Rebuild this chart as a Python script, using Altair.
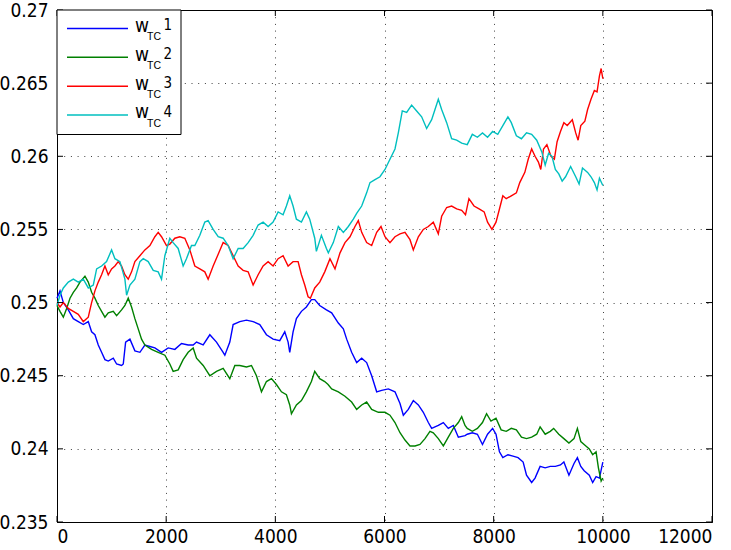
import altair as alt
import pandas as pd

# ---- series data: w_TC weights over iterations ----
x1 = [0, 55, 116, 207, 299, 390, 482, 573, 634, 695, 756, 817, 878, 939, 1031, 1092, 1183, 1214, 1257, 1336,
      1427, 1519, 1610, 1702, 1793, 1915, 2037, 2159, 2281, 2403, 2495, 2556, 2678, 2800, 2922, 3044, 3075, 3166,
      3227, 3349, 3471, 3593, 3715, 3837, 3959, 4081, 4173, 4234, 4264, 4325, 4386, 4478, 4569, 4661, 4722, 4813,
      4936, 5032, 5154, 5246, 5307, 5398, 5490, 5582, 5673, 5765, 5857, 5948, 6070, 6192, 6284, 6345, 6436, 6528,
      6620, 6711, 6803, 6864, 6986, 7078, 7169, 7261, 7353, 7475, 7516, 7609, 7702, 7795, 7888, 7981, 8043, 8106,
      8168, 8261, 8354, 8447, 8540, 8602, 8696, 8758, 8851, 8944, 9037, 9130, 9224, 9286, 9379, 9472, 9534, 9596,
      9658, 9752, 9814, 9876, 9938, 10000]
w1 = [0.2503, 0.2508, 0.2500, 0.2495, 0.2489, 0.2487, 0.2485, 0.2487, 0.2480, 0.2478, 0.2471, 0.2466, 0.2461,
      0.2460, 0.2462, 0.2458, 0.2457, 0.2458, 0.2473, 0.2475, 0.2467, 0.2466, 0.2471, 0.2470, 0.2469, 0.2466,
      0.2469, 0.2468, 0.2472, 0.2471, 0.2471, 0.2473, 0.2471, 0.2478, 0.2473, 0.2466, 0.2464, 0.2473, 0.2485,
      0.2487, 0.2488, 0.2487, 0.2485, 0.2478, 0.2475, 0.2474, 0.2480, 0.2473, 0.2466, 0.2480, 0.2489, 0.2494,
      0.2497, 0.2502, 0.2502, 0.2498, 0.2495, 0.2493, 0.2486, 0.2482, 0.2475, 0.2466, 0.2459, 0.2462, 0.2459,
      0.2450, 0.2439, 0.2440, 0.2441, 0.2439, 0.2431, 0.2423, 0.2427, 0.2433, 0.2430, 0.2425, 0.2418, 0.2414,
      0.2416, 0.2418, 0.2414, 0.2416, 0.2408, 0.2409, 0.2410, 0.2411, 0.2410, 0.2403, 0.2410, 0.2414, 0.2410,
      0.2398, 0.2394, 0.2396, 0.2395, 0.2394, 0.2391, 0.2382, 0.2377, 0.2380, 0.2388, 0.2387, 0.2388, 0.2388,
      0.2389, 0.2391, 0.2382, 0.2390, 0.2394, 0.2388, 0.2385, 0.2382, 0.2377, 0.2381, 0.2380, 0.2391]

x2 = [0, 55, 116, 177, 238, 299, 360, 421, 512, 573, 634, 695, 756, 817, 878, 939, 1031, 1092, 1183, 1244,
      1305, 1366, 1427, 1488, 1549, 1610, 1732, 1854, 1976, 2067, 2128, 2220, 2311, 2403, 2495, 2556, 2678, 2800,
      2922, 3044, 3166, 3258, 3349, 3471, 3563, 3654, 3746, 3837, 3929, 4020, 4112, 4203, 4264, 4295, 4386, 4478,
      4569, 4661, 4722, 4813, 4905, 4966, 5032, 5154, 5276, 5398, 5490, 5582, 5673, 5765, 5887, 6009, 6100, 6192,
      6284, 6375, 6467, 6559, 6650, 6742, 6833, 6894, 6986, 7078, 7169, 7261, 7353, 7414, 7475, 7516, 7609, 7702,
      7795, 7870, 7950, 8043, 8137, 8230, 8323, 8416, 8509, 8602, 8696, 8789, 8851, 8944, 9037, 9099, 9193, 9286,
      9379, 9472, 9534, 9596, 9689, 9752, 9814, 9876, 9919, 9969, 10000]
w2 = [0.2498, 0.2494, 0.2490, 0.2496, 0.2503, 0.2507, 0.2510, 0.2514, 0.2518, 0.2514, 0.2507, 0.2503, 0.2498,
      0.2494, 0.2490, 0.2493, 0.2494, 0.2491, 0.2495, 0.2498, 0.2503, 0.2497, 0.2489, 0.2482, 0.2475, 0.2471,
      0.2468, 0.2466, 0.2464, 0.2458, 0.2453, 0.2454, 0.2461, 0.2466, 0.2469, 0.2462, 0.2457, 0.2450, 0.2453,
      0.2455, 0.2448, 0.2457, 0.2457, 0.2456, 0.2457, 0.2450, 0.2439, 0.2446, 0.2448, 0.2444, 0.2439, 0.2437,
      0.2430, 0.2424, 0.2430, 0.2433, 0.2439, 0.2446, 0.2453, 0.2448, 0.2446, 0.2444, 0.2441, 0.2439, 0.2436,
      0.2432, 0.2427, 0.2430, 0.2432, 0.2427, 0.2425, 0.2425, 0.2423, 0.2418, 0.2411, 0.2406, 0.2402, 0.2402,
      0.2403, 0.2407, 0.2412, 0.2411, 0.2407, 0.2402, 0.2408, 0.2414, 0.2418, 0.2422, 0.2416, 0.2414, 0.2412,
      0.2414, 0.2418, 0.2424, 0.2419, 0.2421, 0.2413, 0.2412, 0.2414, 0.2413, 0.2408, 0.2407, 0.2408, 0.2410,
      0.2415, 0.2410, 0.2412, 0.2414, 0.2410, 0.2407, 0.2404, 0.2407, 0.2414, 0.2405, 0.2402, 0.2400, 0.2396,
      0.2398, 0.2387, 0.2378, 0.2380]

x3 = [0, 55, 116, 207, 299, 390, 482, 573, 634, 695, 756, 817, 878, 939, 1000, 1061, 1122, 1183, 1244, 1305,
      1366, 1427, 1519, 1610, 1702, 1793, 1854, 1915, 2006, 2067, 2159, 2250, 2342, 2434, 2525, 2617, 2708, 2769,
      2861, 2953, 3044, 3136, 3227, 3319, 3410, 3502, 3593, 3685, 3776, 3868, 3959, 4051, 4142, 4234, 4325, 4417,
      4478, 4539, 4600, 4642, 4722, 4813, 4905, 5001, 5093, 5185, 5276, 5368, 5459, 5520, 5582, 5673, 5765, 5857,
      5936, 6009, 6100, 6192, 6284, 6375, 6467, 6528, 6620, 6711, 6803, 6894, 6986, 7047, 7139, 7230, 7322, 7414,
      7484, 7547, 7640, 7733, 7826, 7888, 7969, 8043, 8106, 8168, 8230, 8323, 8416, 8478, 8571, 8633, 8696, 8758,
      8820, 8863, 8913, 8975, 9050, 9112, 9162, 9224, 9286, 9348, 9441, 9503, 9547, 9596, 9671, 9721, 9783, 9845,
      9894, 9938, 9969, 10000]
w3 = [0.2500, 0.2497, 0.2500, 0.2496, 0.2494, 0.2492, 0.2487, 0.2490, 0.2500, 0.2508, 0.2514, 0.2519, 0.2525,
      0.2519, 0.2523, 0.2525, 0.2528, 0.2525, 0.2519, 0.2516, 0.2521, 0.2528, 0.2532, 0.2536, 0.2539, 0.2545,
      0.2548, 0.2545, 0.2539, 0.2540, 0.2544, 0.2545, 0.2544, 0.2536, 0.2525, 0.2523, 0.2521, 0.2516, 0.2525,
      0.2533, 0.2541, 0.2539, 0.2532, 0.2525, 0.2522, 0.2521, 0.2512, 0.2519, 0.2525, 0.2528, 0.2525, 0.2530,
      0.2532, 0.2525, 0.2528, 0.2528, 0.2519, 0.2512, 0.2504, 0.2503, 0.2510, 0.2514, 0.2521, 0.2530, 0.2523,
      0.2534, 0.2541, 0.2545, 0.2552, 0.2556, 0.2548, 0.2541, 0.2539, 0.2548, 0.2552, 0.2545, 0.2541, 0.2545,
      0.2547, 0.2548, 0.2543, 0.2536, 0.2545, 0.2550, 0.2552, 0.2555, 0.2547, 0.2559, 0.2565, 0.2566, 0.2564,
      0.2563, 0.2560, 0.2571, 0.2566, 0.2564, 0.2562, 0.2555, 0.2550, 0.2555, 0.2564, 0.2573, 0.2571, 0.2573,
      0.2575, 0.2582, 0.2589, 0.2598, 0.2605, 0.2600, 0.2596, 0.2591, 0.2605, 0.2608, 0.2600, 0.2598, 0.2610,
      0.2617, 0.2623, 0.2621, 0.2625, 0.2616, 0.2611, 0.2621, 0.2624, 0.2632, 0.2639, 0.2645, 0.2644, 0.2655,
      0.2660, 0.2653]

x4 = [0, 55, 116, 207, 299, 390, 482, 573, 665, 726, 817, 908, 1000, 1061, 1153, 1244, 1275, 1336, 1427, 1519,
      1580, 1671, 1763, 1854, 1915, 1976, 2067, 2128, 2220, 2311, 2372, 2464, 2525, 2617, 2708, 2769, 2861, 2953,
      3044, 3136, 3227, 3319, 3410, 3502, 3593, 3685, 3776, 3868, 3959, 4051, 4142, 4203, 4264, 4325, 4386, 4478,
      4569, 4630, 4722, 4752, 4844, 4936, 4971, 5062, 5154, 5246, 5337, 5429, 5490, 5582, 5673, 5734, 5826, 5917,
      6009, 6100, 6192, 6253, 6326, 6406, 6497, 6589, 6681, 6772, 6864, 6925, 6986, 7047, 7139, 7230, 7322, 7414,
      7516, 7609, 7702, 7795, 7888, 7981, 8075, 8168, 8261, 8323, 8416, 8509, 8602, 8696, 8789, 8882, 8944, 9006,
      9068, 9130, 9193, 9255, 9317, 9410, 9503, 9565, 9627, 9721, 9783, 9845, 9894, 9938, 10000]
w4 = [0.2498, 0.2505, 0.2510, 0.2514, 0.2516, 0.2514, 0.2516, 0.2510, 0.2512, 0.2523, 0.2525, 0.2528, 0.2536,
      0.2530, 0.2528, 0.2516, 0.2505, 0.2512, 0.2516, 0.2528, 0.2530, 0.2528, 0.2522, 0.2521, 0.2516, 0.2532,
      0.2544, 0.2541, 0.2537, 0.2525, 0.2530, 0.2539, 0.2539, 0.2546, 0.2555, 0.2556, 0.2550, 0.2545, 0.2544,
      0.2539, 0.2530, 0.2537, 0.2537, 0.2541, 0.2546, 0.2553, 0.2555, 0.2552, 0.2555, 0.2562, 0.2560, 0.2566,
      0.2573, 0.2566, 0.2557, 0.2555, 0.2562, 0.2557, 0.2544, 0.2535, 0.2546, 0.2537, 0.2534, 0.2541, 0.2552,
      0.2548, 0.2552, 0.2557, 0.2561, 0.2566, 0.2575, 0.2582, 0.2584, 0.2586, 0.2591, 0.2598, 0.2605, 0.2616,
      0.2631, 0.2630, 0.2635, 0.2631, 0.2627, 0.2619, 0.2625, 0.2632, 0.2639, 0.2632, 0.2623, 0.2612, 0.2611,
      0.2609, 0.2608, 0.2615, 0.2613, 0.2616, 0.2613, 0.2617, 0.2615, 0.2621, 0.2627, 0.2623, 0.2614, 0.2612,
      0.2616, 0.2615, 0.2611, 0.2603, 0.2594, 0.2602, 0.2600, 0.2591, 0.2588, 0.2583, 0.2586, 0.2593, 0.2586,
      0.2581, 0.2592, 0.2589, 0.2586, 0.2582, 0.2577, 0.2585, 0.2580]

series_ids = ["1", "2", "3", "4"]
series_colors = ["#0000ff", "#008000", "#ff0000", "#00bfbf"]
x_ticks = [0, 2000, 4000, 6000, 8000, 10000, 12000]
y_ticks = [0.235, 0.24, 0.245, 0.25, 0.255, 0.26, 0.265, 0.27]

frames = []
for sid, xs_, ws_ in zip(series_ids, [x1, x2, x3, x4], [w1, w2, w3, w4]):
    frames.append(pd.DataFrame({"iter": xs_, "w": ws_, "series": sid}))
df = pd.concat(frames, ignore_index=True)

W, H = 655, 512
FONT = "Liberation Sans Narrow, DejaVu Sans Condensed, sans-serif"
SUBFONT = "Liberation Sans, Arial, sans-serif"
TICK = 6

xscale = alt.Scale(domain=[0, 12000], nice=False, zero=False)
yscale = alt.Scale(domain=[0.235, 0.27], nice=False, zero=False)
xaxis = alt.Axis(values=x_ticks, format="d", title=None, ticks=False, labelPadding=5,
                 grid=True, gridDash=[1, 5.7], gridColor="#000", gridOpacity=0.75)
yaxis = alt.Axis(values=y_ticks, format=".3~f", title=None, ticks=False, labelPadding=9,
                 grid=True, gridDash=[1, 5.7], gridColor="#000", gridOpacity=0.75)


def X(field):
    return alt.X(field, type="quantitative", scale=xscale, axis=xaxis)


def Y(field):
    return alt.Y(field, type="quantitative", scale=yscale, axis=yaxis)


lines = alt.Chart(df).mark_line(strokeWidth=1.4).encode(
    x=X("iter"),
    y=Y("w"),
    color=alt.Color("series:N", scale=alt.Scale(domain=series_ids, range=series_colors), legend=None),
    order=alt.Order("iter:Q"),
)

# inward tick marks on all four sides of the box
xt = pd.DataFrame({"t": x_ticks})
yt = pd.DataFrame({"t": y_ticks})
tick_bottom = alt.Chart(xt).mark_rule(color="black", strokeWidth=1).encode(
    x=X("t"), y=alt.value(H), y2=alt.value(H - TICK))
tick_top = alt.Chart(xt).mark_rule(color="black", strokeWidth=1).encode(
    x=X("t"), y=alt.value(0), y2=alt.value(TICK))
tick_left = alt.Chart(yt).mark_rule(color="black", strokeWidth=1).encode(
    y=Y("t"), x=alt.value(0), x2=alt.value(TICK))
tick_right = alt.Chart(yt).mark_rule(color="black", strokeWidth=1).encode(
    y=Y("t"), x=alt.value(W), x2=alt.value(W - TICK))

# legend box in the upper-left corner
one = pd.DataFrame({"k": [0]})
LEG_W, LEG_H = 124, 124.5
legend_layers = [
    alt.Chart(one).mark_rect(fill="white", stroke="black", strokeWidth=1).encode(
        x=alt.value(0), x2=alt.value(LEG_W), y=alt.value(0), y2=alt.value(LEG_H))
]
ROW0, ROW_STEP = 18.4, 28.9
for i, (sid, col) in enumerate(zip(series_ids, series_colors)):
    yl = ROW0 + i * ROW_STEP
    legend_layers.append(
        alt.Chart(one).mark_rule(color=col, strokeWidth=1.5).encode(
            x=alt.value(10), x2=alt.value(71), y=alt.value(yl)))
    legend_layers.append(
        alt.Chart(one).mark_text(text="w", font=FONT, fontSize=19, align="left",
                                 baseline="alphabetic", color="black").encode(
            x=alt.value(78), y=alt.value(yl + 3.3)))
    legend_layers.append(
        alt.Chart(one).mark_text(text="TC", font=SUBFONT, fontSize=10.5, align="left",
                                 baseline="alphabetic", color="black").encode(
            x=alt.value(90), y=alt.value(yl + 11.6)))
    legend_layers.append(
        alt.Chart(one).mark_text(text=sid, font=FONT, fontSize=15, align="left",
                                 baseline="alphabetic", color="black").encode(
            x=alt.value(106.5), y=alt.value(yl + 1.6)))

chart = alt.layer(
    lines, tick_bottom, tick_top, tick_left, tick_right, *legend_layers
).properties(
    width=W, height=H,
    padding={"left": 57, "top": 10, "right": 19, "bottom": 28},
    autosize=alt.AutoSizeParams(type="none"),
    background="white",
).configure_view(
    stroke="black", strokeWidth=1,
).configure_axis(
    labelFont=FONT, labelFontSize=19, labelColor="black",
    domainColor="black", domainWidth=1,
)

chart.save("out.html", embed_options={"renderer": "svg", "actions": False})
